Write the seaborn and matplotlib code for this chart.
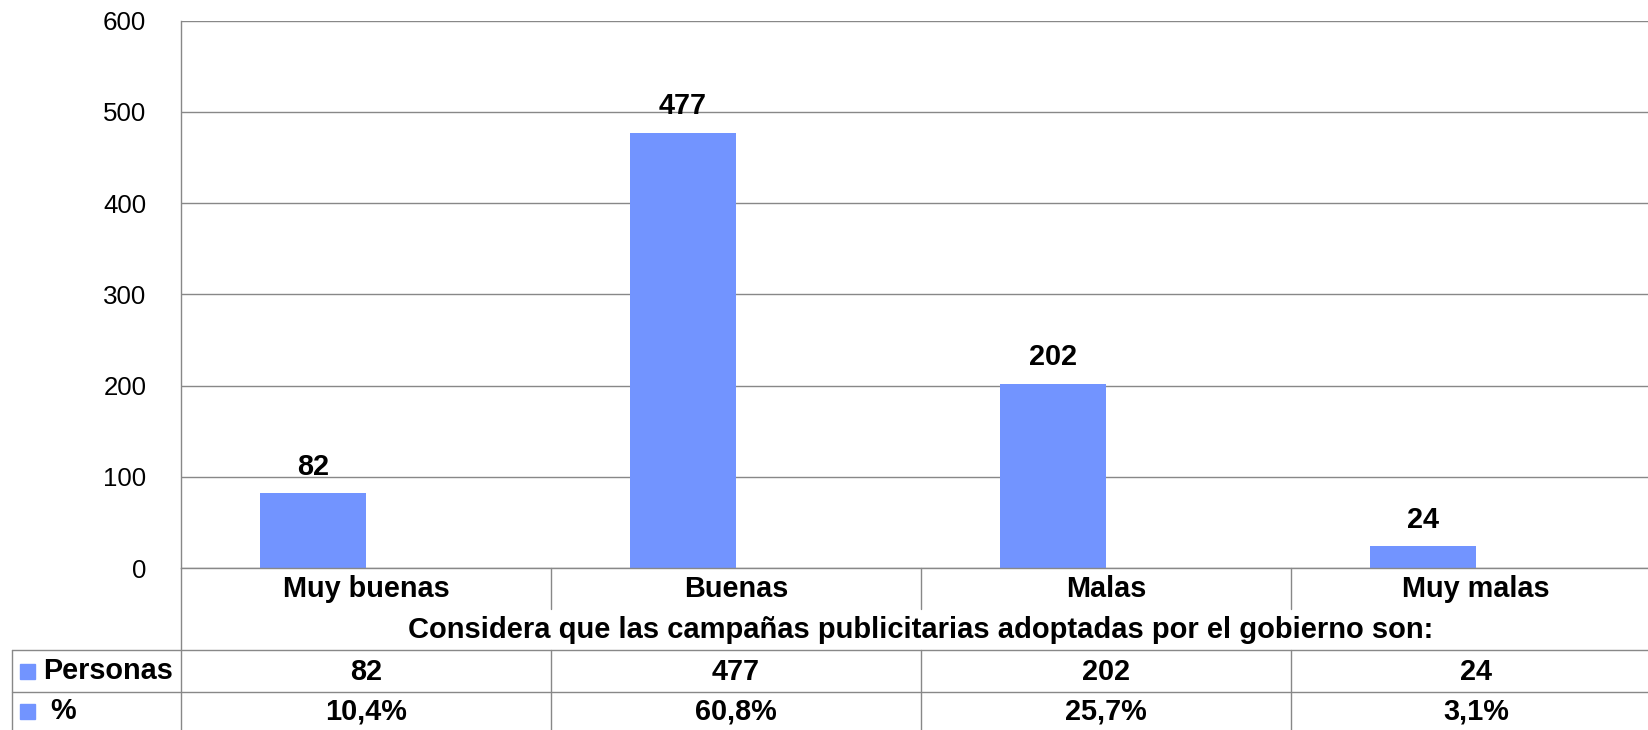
import matplotlib
matplotlib.use("Agg")
import matplotlib.pyplot as plt
from matplotlib.lines import Line2D
from matplotlib.transforms import blended_transform_factory
import seaborn as sns
import pandas as pd

# Survey data
categories = ["Muy buenas", "Buenas", "Malas", "Muy malas"]
personas = [82, 477, 202, 24]
porcentaje = [10.4, 60.8, 25.7, 3.1]
pct_labels = ["10,4%", "60,8%", "25,7%", "3,1%"]
series = ["Personas", "%"]
yticks = [0, 100, 200, 300, 400, 500, 600]
title = "Considera que las campañas publicitarias adoptadas por el gobierno son:"

BLUE = "#7294FF"
GRID = "#888888"
W, H = 1648, 730
BOLD = 20.8

sns.set_theme(style="white")
plt.rcParams["font.family"] = ["Liberation Sans", "DejaVu Sans"]

fig = plt.figure(figsize=(W / 100, H / 100), dpi=100)


def fx(px):
    return px / W


def fy(py):
    return 1 - py / H


# plot area in pixels (it runs past the right edge of the canvas)
left, right, top, bottom = 181, 1661, 20.7, 568
ax = fig.add_axes([fx(left), fy(bottom), fx(right - left), fy(top) - fy(bottom)])

# Personas bars take the first slot of each two-series group; the % slot
# stays reserved so the bars sit left of each category centre.
df = pd.DataFrame({
    "categoria": categories,
    "serie": [series[0]] * len(categories),
    "valor": personas,
})
sns.barplot(data=df, x="categoria", y="valor", hue="serie", hue_order=series,
            order=categories, palette=[BLUE, BLUE], saturation=1, width=0.573,
            gap=0, dodge=True, legend=False, edgecolor="none", linewidth=0,
            errorbar=None, ax=ax)

ax.set_xlim(-0.5, 3.5)
ax.set_ylim(0, 600)
ax.set_yticks(yticks)
ax.set_yticklabels([str(t) for t in yticks], fontsize=18.6, color="black")
ax.tick_params(axis="y", length=0, pad=25)
ax.tick_params(axis="x", length=0, labelbottom=False)
ax.set_xlabel("")
ax.set_ylabel("")
ax.yaxis.grid(True, color=GRID, linewidth=1.0)
ax.set_axisbelow(True)
for side in ["top", "right"]:
    ax.spines[side].set_visible(False)
for side in ["left", "bottom"]:
    ax.spines[side].set_color(GRID)
    ax.spines[side].set_linewidth(1.0)

# value labels above the Personas bars
for bar, v in zip(ax.containers[0], personas):
    ax.annotate(str(v), (bar.get_x() + bar.get_width() / 2, v),
                xytext=(0, 13.3), textcoords="offset points",
                ha="center", va="baseline", fontsize=BOLD, fontweight="bold",
                color="black")

# data table below the axis
tr = blended_transform_factory(ax.transData, fig.transFigure)
line_kw = dict(color=GRID, linewidth=1.0)

# left axis line continuing down through the table
fig.add_artist(Line2D([fx(left), fx(left)], [fy(bottom), fy(H)], transform=fig.transFigure, **line_kw))
# column separators under the category labels and inside the table
for xd in [0.5, 1.5, 2.5]:
    fig.add_artist(Line2D([xd, xd], [fy(bottom), fy(609)], transform=tr, **line_kw))
    fig.add_artist(Line2D([xd, xd], [fy(650), fy(H)], transform=tr, **line_kw))
# horizontal table lines and left border
for yy in [650, 692]:
    fig.add_artist(Line2D([fx(12), 1.0], [fy(yy), fy(yy)], transform=fig.transFigure, **line_kw))
fig.add_artist(Line2D([fx(12), fx(12)], [fy(650), fy(H)], transform=fig.transFigure, **line_kw))

lab_kw = dict(ha="center", va="center", fontsize=BOLD, fontweight="bold", color="black", transform=tr)
for i, cat in enumerate(categories):
    fig.text(i, fy(589), cat, **lab_kw)
    fig.text(i, fy(672), str(personas[i]), **lab_kw)
    fig.text(i, fy(712), pct_labels[i], **lab_kw)

# axis title centred over the category columns
fig.text(1.5, fy(630), title, ha="center", va="center", fontsize=21,
         fontweight="bold", color="black", transform=tr)

# row headers with legend keys
for name, yy, tx in [(series[0], 671, 43), (series[1], 711, 50)]:
    fig.patches.append(plt.Rectangle((fx(20), fy(yy + 7.5)), fx(15), fy(0) - fy(15),
                                     transform=fig.transFigure, color=BLUE, figure=fig))
    fig.text(fx(tx), fy(yy), name, ha="left", va="center", fontsize=BOLD,
             fontweight="bold", color="black")

fig.savefig("out.png", dpi=100, facecolor="white")
